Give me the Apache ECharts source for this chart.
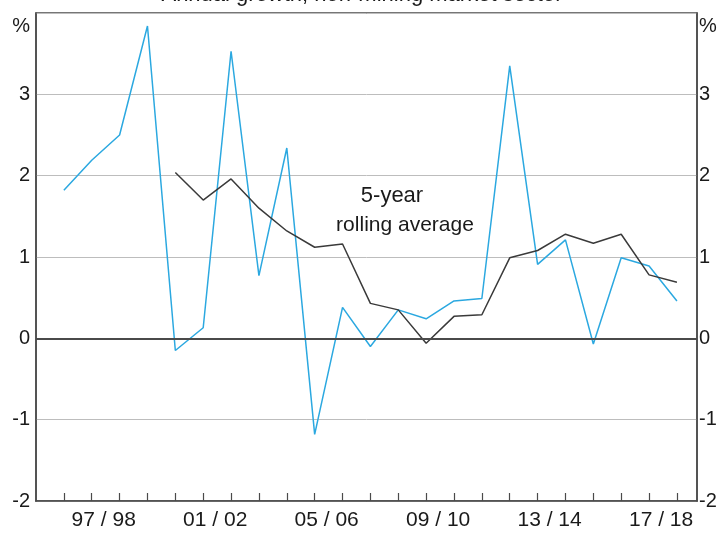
<!DOCTYPE html>
<html>
<head>
<meta charset="utf-8">
<script src="https://cdn.jsdelivr.net/npm/echarts@6/dist/echarts.min.js"></script>
<style>
  html, body { margin: 0; padding: 0; background: #fff; }
  #chart { width: 724px; height: 536px; }
</style>
</head>
<body>
<div id="chart"></div>
<script>
// financial years, one point per year
var years = ['96/97', '97/98', '98/99', '99/00', '00/01', '01/02', '02/03', '03/04',
  '04/05', '05/06', '06/07', '07/08', '08/09', '09/10', '10/11', '11/12', '12/13',
  '13/14', '14/15', '15/16', '16/17', '17/18', '18/19'];

// annual growth, non-mining market sector (%)
var growth = [1.82, 2.19, 2.50, 3.84, -0.15, 0.13, 3.53, 0.77, 2.34, -1.18, 0.38,
  -0.10, 0.35, 0.24, 0.46, 0.49, 3.35, 0.91, 1.21, -0.07, 0.99, 0.89, 0.46];

// 5-year rolling average (%)
var rolling = [null, null, null, null, 2.04, 1.70, 1.96, 1.60, 1.32, 1.12, 1.16,
  0.43, 0.35, -0.06, 0.27, 0.29, 0.99, 1.08, 1.28, 1.17, 1.28, 0.78, 0.69];

// which years get a label on the x axis
var labelYears = ['97/98', '01/02', '05/06', '09/10', '13/14', '17/18'];

var yTicks = [-2, -1, 0, 1, 2, 3, 4];

var FONT = 'Liberation Sans, Arial, sans-serif';

function pairs(vals) {
  return vals.map(function (v, i) { return [i, v]; });
}

function yLabel(v) {
  if (v === yTicks[yTicks.length - 1]) return '{p|%}';
  return String(v);
}

var chart = echarts.init(document.getElementById('chart'));

var option = {
  animation: false,
  grid: {
    left: 36, right: 27, top: 13, bottom: 35,
    show: true, borderColor: '#4a4a4a', borderWidth: 1.5
  },
  xAxis: {
    type: 'value',
    min: -1,
    max: years.length - 1 + 0.72,
    interval: 1,
    splitLine: { show: false },
    axisLine: { show: true, onZero: false, lineStyle: { color: '#4a4a4a', width: 1.5 } },
    axisTick: { show: true, inside: true, length: 8, lineStyle: { color: '#4a4a4a', width: 1.2 } },
    axisLabel: {
      margin: 9,
      showMaxLabel: false,
      showMinLabel: false,
      formatter: function (v) {
        if (!Number.isInteger(v) || v < 0) return '';
        var y = years[v];
        if (labelYears.indexOf(y) < 0) return '';
        return '{t|' + y.replace('/', ' / ') + '}';
      },
      rich: {
        t: { fontFamily: FONT, fontSize: 21, color: '#1a1a1a', padding: [0, 0, 0, 24] }
      }
    }
  },
  yAxis: [{
    type: 'value',
    min: -2, max: 4, interval: 1,
    position: 'left',
    axisLine: { show: true, onZero: false, lineStyle: { color: '#4a4a4a', width: 1.5 } },
    axisTick: { show: false },
    splitLine: { show: true, lineStyle: { color: '#bdbdbd', width: 1 } },
    axisLabel: {
      margin: 6, fontFamily: FONT, fontSize: 20, color: '#1a1a1a',
      formatter: yLabel,
      rich: { p: { fontFamily: FONT, fontSize: 20, color: '#1a1a1a', padding: [26, 0, 0, 0] } }
    }
  }, {
    type: 'value',
    min: -2, max: 4, interval: 1,
    position: 'right',
    axisLine: { show: true, onZero: false, lineStyle: { color: '#4a4a4a', width: 1.5 } },
    axisTick: { show: false },
    splitLine: { show: false },
    axisLabel: {
      margin: 2, fontFamily: FONT, fontSize: 20, color: '#1a1a1a',
      formatter: yLabel,
      rich: { p: { fontFamily: FONT, fontSize: 20, color: '#1a1a1a', padding: [26, 0, 0, 0] } }
    }
  }],
  series: [{
    name: 'Annual growth',
    type: 'line',
    data: pairs(growth),
    symbol: 'none',
    lineStyle: { color: '#2ba8e0', width: 1.5 },
    z: 3,
    markLine: {
      silent: true,
      symbol: 'none',
      label: { show: false },
      lineStyle: { color: '#4a4a4a', width: 2, type: 'solid' },
      data: [{ yAxis: 0 }]
    }
  }, {
    name: '5-year rolling average',
    type: 'line',
    data: pairs(rolling),
    symbol: 'none',
    connectNulls: false,
    lineStyle: { color: '#3a3a3a', width: 1.5 },
    z: 4
  }],
  graphic: [{
    type: 'text',
    left: 'center',
    top: -16,
    style: {
      text: 'Annual growth, non-mining market sector',
      font: '22px ' + FONT,
      fill: '#1a1a1a'
    }
  }, {
    type: 'text',
    x: 392, y: 196,
    style: {
      text: '5-year',
      font: '22px ' + FONT,
      fill: '#1a1a1a',
      align: 'center',
      verticalAlign: 'middle'
    }
  }, {
    type: 'text',
    x: 405, y: 225,
    style: {
      text: 'rolling average',
      font: '21px ' + FONT,
      fill: '#1a1a1a',
      align: 'center',
      verticalAlign: 'middle'
    }
  }]
};

chart.setOption(option);
</script>
</body>
</html>
